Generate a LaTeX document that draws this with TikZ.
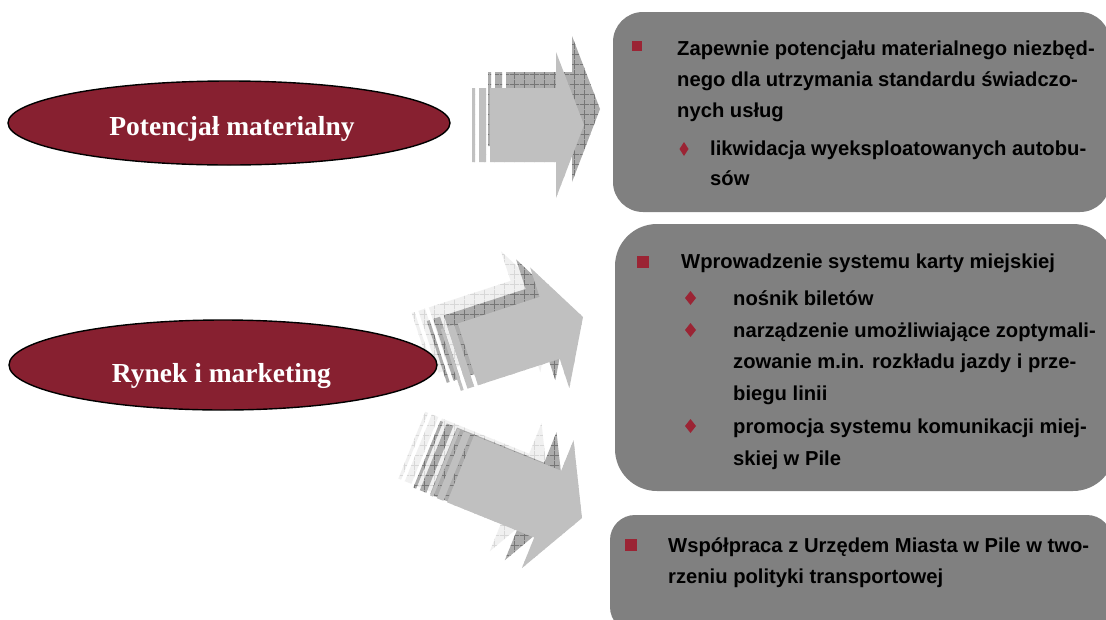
\documentclass[tikz,border=0pt]{standalone}
\usepackage{fontspec}
\newfontfamily\sansb{Liberation Sans}
\newfontfamily\serifb{Liberation Serif}
\usetikzlibrary{shapes.geometric,patterns}
\definecolor{ellred}{RGB}{135,32,48}
\definecolor{bulletred}{RGB}{155,36,52}
\definecolor{boxgray}{RGB}{128,128,128}
\definecolor{arrowlight}{RGB}{192,192,192}
\definecolor{hatchgray}{RGB}{172,172,172}
\definecolor{gridgray}{RGB}{118,118,118}
\definecolor{palegray}{RGB}{240,240,240}
\definecolor{palegrid}{RGB}{215,215,215}
\pgfdeclarepatternformonly{biggrid}{\pgfqpoint{0pt}{0pt}}{\pgfqpoint{10pt}{10pt}}{\pgfqpoint{10pt}{10pt}}{%
  \pgfsetlinewidth{0.8pt}%
  \pgfpathmoveto{\pgfqpoint{0pt}{5pt}}\pgfpathlineto{\pgfqpoint{10pt}{5pt}}%
  \pgfpathmoveto{\pgfqpoint{5pt}{0pt}}\pgfpathlineto{\pgfqpoint{5pt}{10pt}}%
  \pgfusepath{stroke}}
\tikzset{
  pics/sarrow/.style args={#1/#2/#3/#4/#5/#6}{code={
    \path[fill=#5, postaction={pattern=biggrid, pattern color=#6}]
      (0,0) -- ({-#1},{-#2/2}) -- ({-#1},{-#3/2}) -- ({-#1-#4},{-#3/2})
      -- ({-#1-#4},{#3/2}) -- ({-#1},{#3/2}) -- ({-#1},{#2/2}) -- cycle
      ({-#1-#4-4},{-#3/2}) rectangle ({-#1-#4-11},{#3/2})
      ({-#1-#4-15},{-#3/2}) rectangle ({-#1-#4-18},{#3/2});
  }},
  pics/dia/.style args={#1/#2}{code={
    \fill[bulletred] (0,{-#2}) -- (#1,0) -- (0,#2) -- ({-#1},0) -- cycle;
  }},
  graybox/.style={rectangle, fill=boxgray, inner sep=0pt, outer sep=0pt},
  ellbox/.style={ellipse, draw=black, line width=1.4pt, fill=ellred, inner sep=0pt},
  elltext/.style={font=\serifb\bfseries\fontsize{27.5}{30}\selectfont, text=white, anchor=base, inner sep=0pt},
  txt/.style={font=\sansb\bfseries\fontsize{20.2}{24}\selectfont, text=black, anchor=base west, inner sep=0pt},
}
\begin{document}
\begin{tikzpicture}[x=1pt,y=-1pt]
\useasboundingbox (0,0) rectangle (1106,619);
\fill[white] (0,0) rectangle (1106,619);

% boxes
\node[graybox, minimum width=497pt, minimum height=200pt, rounded corners=30pt] (box1) at (861.5,112) {};
\node[graybox, minimum width=500pt, minimum height=267pt, rounded corners=42pt] (box2) at (865,357.5) {};
\node[graybox, minimum width=502pt, minimum height=117pt, rounded corners=25pt] (box3) at (861,573.5) {};

% arrow 1
\pic at (600,109) {sarrow=28/146/74/66/hatchgray/gridgray};
\pic at (584,125) {sarrow=28/146/74/66/arrowlight/arrowlight};
% arrow 2
\pic[rotate=18] at (554,301) {sarrow=35/127/65/86/palegray/palegrid};
\pic[rotate=18] at (569,309) {sarrow=35/127/65/86/hatchgray/gridgray};
\pic[rotate=18] at (583,317) {sarrow=35/127/65/86/arrowlight/arrowlight};
% arrow 3
\pic[rotate=-22] at (550,501) {sarrow=37/138/72/94/palegray/palegrid};
\pic[rotate=-22] at (565,510) {sarrow=37/138/72/94/hatchgray/gridgray};
\pic[rotate=-22] at (582,518) {sarrow=37/138/72/94/arrowlight/arrowlight};

% ellipses
\node[ellbox, minimum width=442pt, minimum height=84pt] (e1) at (229,123) {};
\node[elltext] (e1t) at (232,135) {Potencjał materialny};
\node[ellbox, minimum width=428pt, minimum height=90pt] (e2) at (223,365) {};
\node[elltext] (e2t) at (221.5,382) {Rynek i marketing};

% box 1 text
\fill[bulletred] (632,41) rectangle (642,51);
\node[txt] (b1l1) at (677,55) {Zapewnie potencjału materialnego niezbęd-};
\node[txt] (b1l2) at (677,86) {nego dla utrzymania standardu świadczo-};
\node[txt] (b1l3) at (677,117) {nych usług};
\pic at (684,149) {dia=4.5/7};
\node[txt] (b1l4) at (710,155) {likwidacja wyeksploatowanych autobu-};
\node[txt] (b1l5) at (710,185) {sów};

% box 2 text
\fill[bulletred] (637,256) rectangle (649,268);
\node[txt] (b2l1) at (681,268) {Wprowadzenie systemu karty miejskiej};
\pic at (690.5,298) {dia=5.5/7};
\node[txt] (b2l2) at (733,305) {nośnik biletów};
\pic at (690.5,330) {dia=5.5/7};
\node[txt] (b2l3) at (733,337) {narządzenie umożliwiające zoptymali-};
\node[txt] (b2l4) at (733,368) {zowanie m.in. rozkładu jazdy i prze-};
\node[txt] (b2l5) at (733,400) {biegu linii};
\pic at (690.5,426) {dia=5.5/7};
\node[txt] (b2l6) at (733,433) {promocja systemu komunikacji miej-};
\node[txt] (b2l7) at (733,465) {skiej w Pile};

% box 3 text
\fill[bulletred] (625,539) rectangle (637,551);
\node[txt] (b3l1) at (668,552) {Współpraca z Urzędem Miasta w Pile w two-};
\node[txt] (b3l2) at (668,583) {rzeniu polityki transportowej};
\end{tikzpicture}
\end{document}
